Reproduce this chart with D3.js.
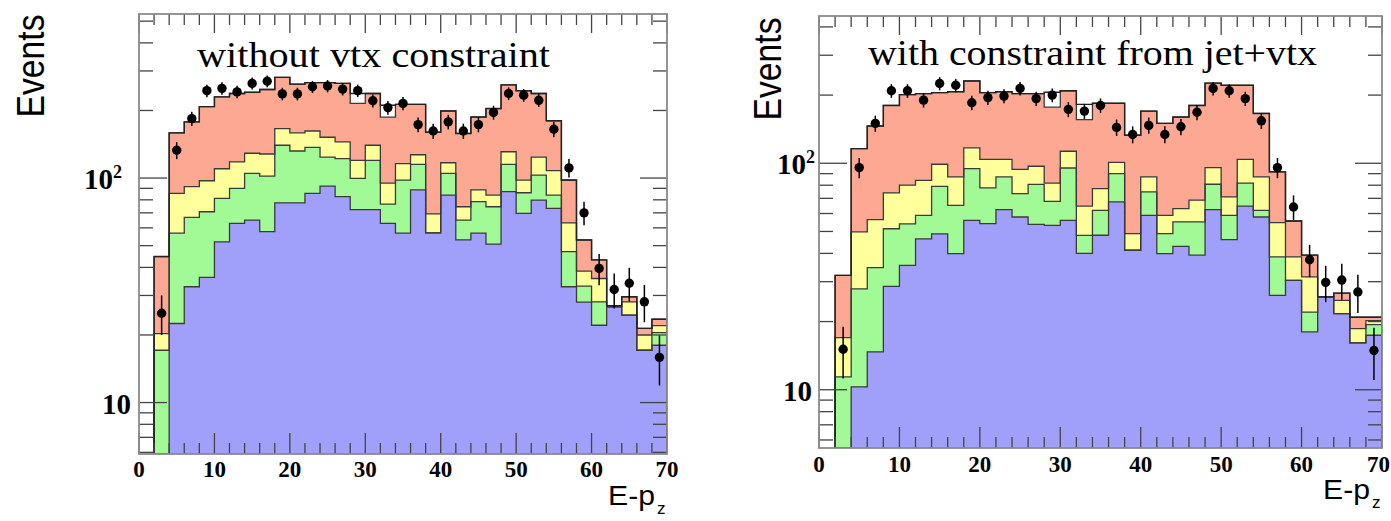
<!DOCTYPE html>
<html><head><meta charset="utf-8">
<script src="https://cdn.jsdelivr.net/npm/d3@7"></script>
<style>body{margin:0;background:#fff}svg{display:block}</style>
</head><body>
<svg id="c" width="1391" height="521"></svg>
<script>
// ---------- data ----------
const binWidth = 2;
const binLow = d3.range(2, 70, binWidth); // 34 bins: 2-4 ... 68-70
const xTicks = [0, 10, 20, 30, 40, 50, 60, 70];
const yMajorTicks = [10, 100];
const yTickLabels = ["10", "10^2"];

// Left panel: without vtx constraint (cumulative stack tops)
const leftRed    = [44.7,159,178,208,230,238,241,248,281,262,266,266,264,215,238,187,213,213,160,199,158,187,204,260,245,238,180,98,53,43.2,27,29.6,21.4,23.5];
const leftYellow = [20.3,85.4,91.5,97.3,110,118,129,128,166,159,162,152,145,120,140,95,116,127,69.2,117,74.5,88.5,84,131,98,124,108,63.2,38.5,35.7,26.8,28.1,20,22];
const leftGreen  = [17.1,56.8,66.8,70.8,81.2,89.9,105,102,140,132,137,124,122,99.7,120,76.6,98,115,57,105,65,78.5,74.5,115,86,103,84,47,33,28.1,26.7,24.5,17.1,20.5];
const leftBlue   = [1,22.5,32.8,36.1,52,62.8,65,57.7,77.6,77.6,85.4,92.1,82.6,72.4,72.4,62.8,56.8,88.5,57,84,53,56.8,50.8,87,69.6,79.8,73.3,32.8,28,22.1,26.7,24.5,17.1,18];
const leftOutline= [44.7,159,178,208,230,238,241,248,281,262,266,266,264,238,238,211,213,213,160,199,158,187,204,260,245,238,180,98,53,43.2,27,29.6,21.4,23.5];
const leftData   = [25,133,184,245,251,242,264,270,237,237,255,257,249,245,221,206,215,173,162,178,162,173,196,238,234,222,165,111,70,39.6,31.9,34,28.1,15.9];

// Right panel: with constraint from jet+vtx
const rightRed    = [32,116,146,180,201,203,205,207,231,205,207,203,203,177,209,156,184,184,133,170,150,160,180,226,221,221,166,91.6,55.6,39.3,25.7,26.7,20.9,20.9];
const rightYellow = [17,49.8,56.4,74,80,84.1,99,87,117,104,104,94,97,81.8,113,64.7,77.3,101,48.9,87,58.9,63.1,68.7,95.7,71,104,87,54.7,38.6,31.5,25.7,24.8,18.6,20.2];
const rightGreen  = [11.4,27.9,34.6,51.4,54,58.9,79,65.2,94.7,77.8,87,73.5,80.7,67.9,95.3,48,62,90,41.3,74.7,48.9,55.1,55.1,80.8,58.9,81.8,62,38.6,30.4,22,25.7,21.7,16.1,19.4];
const rightBlue   = [1,10.3,14.7,28.6,35.4,46.4,48.8,39.9,56,54.1,62.4,57.9,53.7,53.2,56,40,48.1,67.5,41.3,58.9,39.9,43,39.3,62.4,46,64.7,57.9,26.1,30.4,18,25.7,21.7,16.1,17.4];
const rightOutline= [32,116,146,180,201,203,205,207,231,205,207,203,203,206,209,182,184,184,133,170,150,160,180,226,221,221,166,91.6,55.6,39.3,25.7,26.7,20.9,20.9];
const rightData   = [15.1,95.7,150,209,209,190,225,221,185,195,198,214,193,200,173,170,180,144,134,147,134,145,168,214,209,193,154,95.7,64.1,37.5,29.8,30.5,27,14.9];

const colors = { red: "#fca892", yellow: "#ffff9c", green: "#a2fa96", blue: "#a0a0fa" };

// ---------- drawing ----------
const W = 1391;
const svg = d3.select("#c");
const line = d3.line();

function drawPanel(p) {
  const x = d3.scaleLinear().domain([0, 70]).range([p.left, p.right]);
  const y = d3.scaleLog().domain(p.yDomain).range([p.bottom, p.top]).clamp(true);

  const clipId = "clip" + p.id;
  svg.append("clipPath").attr("id", clipId).append("rect")
    .attr("x", p.left).attr("y", p.top)
    .attr("width", p.right - p.left).attr("height", p.bottom - p.top);
  const plot = svg.append("g").attr("clip-path", `url(#${clipId})`);

  function stepPts(vals) {
    const pts = [[x(binLow[0]), p.bottom]];
    vals.forEach((v, i) => {
      pts.push([x(binLow[i]), y(v)]);
      pts.push([x(binLow[i] + binWidth), y(v)]);
    });
    pts.push([x(binLow[vals.length - 1] + binWidth), p.bottom]);
    return pts;
  }

  const layers = [
    { v: p.red, c: colors.red },
    { v: p.yellow, c: colors.yellow },
    { v: p.green, c: colors.green },
    { v: p.blue, c: colors.blue }
  ];
  layers.forEach(L => {
    plot.append("path").attr("d", line(stepPts(L.v)) + "Z").attr("fill", L.c).attr("stroke", "none");
  });
  layers.forEach(L => {
    plot.append("path").attr("d", line(stepPts(L.v))).attr("fill", "none")
      .attr("stroke", "#3a3a3a").attr("stroke-width", 1.3);
  });
  plot.append("path").attr("d", line(stepPts(p.outline))).attr("fill", "none")
    .attr("stroke", "#222").attr("stroke-width", 1.4);

  // ticks
  const tg = svg.append("g").attr("stroke", "#444").attr("stroke-width", 1.3);
  d3.range(0, 71, 2).forEach(v => {
    const major = v % 10 === 0;
    const xx = x(v);
    tg.append("line").attr("x1", xx).attr("x2", xx).attr("y1", p.bottom).attr("y2", p.bottom - (major ? 21 : 11));
    tg.append("line").attr("x1", xx).attr("x2", xx).attr("y1", p.top).attr("y2", p.top + (major ? 19 : 11));
  });
  const minorY = [6,7,8,9,20,30,40,50,60,70,80,90,200,300,400,500]
    .filter(v => v > p.yDomain[0] && v < p.yDomain[1]);
  yMajorTicks.forEach(v => {
    const yy = y(v);
    tg.append("line").attr("x1", p.left).attr("x2", p.left + 28).attr("y1", yy).attr("y2", yy);
    tg.append("line").attr("x1", p.right).attr("x2", p.right - 27).attr("y1", yy).attr("y2", yy);
  });
  minorY.forEach(v => {
    const yy = y(v);
    tg.append("line").attr("x1", p.left).attr("x2", p.left + 14).attr("y1", yy).attr("y2", yy);
    tg.append("line").attr("x1", p.right).attr("x2", p.right - 14).attr("y1", yy).attr("y2", yy);
  });

  // frame
  svg.append("rect").attr("x", p.left).attr("y", p.top)
    .attr("width", p.right - p.left).attr("height", p.bottom - p.top)
    .attr("fill", "none").attr("stroke", "#8a8a8a").attr("stroke-width", 1.8);

  // data points with Poisson error bars
  const dg = svg.append("g");
  p.data.forEach((v, i) => {
    const cx = x(binLow[i] + binWidth / 2);
    const e = Math.sqrt(v);
    dg.append("line").attr("x1", cx).attr("x2", cx)
      .attr("y1", y(v - e)).attr("y2", y(v + e))
      .attr("stroke", "#000").attr("stroke-width", 1.5);
    dg.append("circle").attr("cx", cx).attr("cy", y(v)).attr("r", 4.7).attr("fill", "#000");
  });

  // x tick labels (kept inside the canvas)
  xTicks.forEach(v => {
    const t = svg.append("text").attr("y", p.xLabelY)
      .attr("font-family", "Liberation Serif").attr("font-weight", "bold").attr("font-size", 23)
      .text(v);
    if (x(v) + 13 > W) {
      t.attr("x", W - 1).attr("text-anchor", "end");
    } else {
      t.attr("x", x(v)).attr("text-anchor", "middle");
    }
  });

  // y tick labels
  yMajorTicks.forEach((v, i) => {
    const t = svg.append("text").attr("y", y(v) + 11)
      .attr("text-anchor", "end")
      .attr("font-family", "Liberation Serif").attr("font-weight", "bold").attr("font-size", 29);
    const lab = yTickLabels[i];
    if (lab.includes("^")) {
      const [base, exp] = lab.split("^");
      t.attr("x", p.left - p.supOffset);
      t.append("tspan").text(base);
      t.append("tspan").attr("dy", -11).attr("font-size", 18).text(exp);
    } else {
      t.attr("x", p.left - p.tenOffset).text(lab);
    }
  });

  // title
  svg.append("text").attr("x", p.titleX).attr("y", p.titleY)
    .attr("font-family", "Liberation Serif").attr("font-size", 36)
    .attr("textLength", p.titleLen).attr("lengthAdjust", "spacingAndGlyphs")
    .text(p.title);

  // y axis title
  svg.append("text")
    .attr("transform", `translate(${p.yTitleX},${p.yTitleY}) rotate(-90)`)
    .attr("text-anchor", "middle")
    .attr("font-family", "Liberation Sans").attr("font-size", 38)
    .attr("textLength", 103).attr("lengthAdjust", "spacingAndGlyphs")
    .text("Events");

  // x axis title
  const xt = svg.append("text").attr("x", p.xTitleX).attr("y", p.xTitleY)
    .attr("font-family", "Liberation Sans").attr("font-size", 28);
  xt.append("tspan").attr("textLength", 47).attr("lengthAdjust", "spacingAndGlyphs").text("E-p");
  xt.append("tspan").attr("dy", 9).attr("dx", 2).attr("font-size", 17).text("z");
}

drawPanel({
  id: "L", left: 139, right: 667, top: 14, bottom: 454, yDomain: [5.9, 538],
  red: leftRed, yellow: leftYellow, green: leftGreen, blue: leftBlue,
  outline: leftOutline, data: leftData,
  xLabelY: 477, supOffset: 17, tenOffset: 8,
  title: "without vtx constraint", titleX: 197, titleY: 67, titleLen: 353,
  yTitleX: 44, yTitleY: 66, xTitleX: 608, xTitleY: 505
});
drawPanel({
  id: "R", left: 819, right: 1382, top: 16, bottom: 448, yDomain: [5.53, 447],
  red: rightRed, yellow: rightYellow, green: rightGreen, blue: rightBlue,
  outline: rightOutline, data: rightData,
  xLabelY: 472, supOffset: 4, tenOffset: 7,
  title: "with constraint from jet+vtx", titleX: 868, titleY: 65, titleLen: 449,
  yTitleX: 781, yTitleY: 69, xTitleX: 1323, xTitleY: 499
});
</script>
</body></html>
